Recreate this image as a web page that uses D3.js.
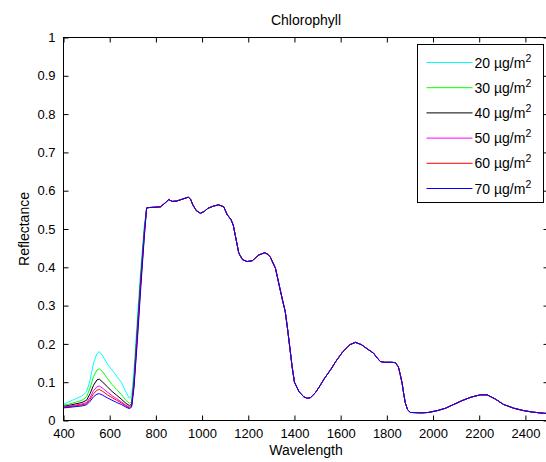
<!DOCTYPE html>
<html>
<head>
<meta charset="utf-8">
<script src="https://cdn.jsdelivr.net/npm/d3@7"></script>
<style>
  body { margin: 0; background: #fff; }
  svg { display: block; font-family: "Liberation Sans", Arial, sans-serif; }
  .axis text { font-size: 13px; fill: #000; }
  .axis line { stroke: #000; }
</style>
</head>
<body>
<svg id="chart" width="546" height="462"></svg>
<script>
// ---- data ----
var seriesNames = ["20", "30", "40", "50", "60", "70"];
var seriesColors = ["#00ffff", "#00ff00", "#000000", "#ff00ff", "#ff0000", "#0000ff"];

// visible part: curves differ by chlorophyll content
var visWavelengths = [400, 420, 450, 480, 500, 515, 530, 545, 555, 570, 590, 610, 630, 650, 670, 685, 695, 705, 720, 735, 750, 760];
var vis20 = [0.042, 0.048, 0.056, 0.064, 0.075, 0.105, 0.150, 0.175, 0.180, 0.168, 0.148, 0.132, 0.116, 0.100, 0.075, 0.058, 0.065, 0.130, 0.270, 0.400, 0.510, 0.555];
var vis30 = [0.040, 0.042, 0.047, 0.053, 0.062, 0.085, 0.115, 0.132, 0.135, 0.127, 0.110, 0.094, 0.081, 0.068, 0.053, 0.045, 0.050, 0.110, 0.250, 0.385, 0.500, 0.555];
var vis40 = [0.037, 0.039, 0.043, 0.047, 0.053, 0.070, 0.092, 0.106, 0.108, 0.100, 0.088, 0.076, 0.066, 0.056, 0.045, 0.039, 0.043, 0.100, 0.240, 0.375, 0.495, 0.555];
var vis50 = [0.036, 0.037, 0.040, 0.043, 0.047, 0.060, 0.078, 0.088, 0.090, 0.084, 0.074, 0.065, 0.057, 0.049, 0.040, 0.035, 0.040, 0.095, 0.230, 0.365, 0.490, 0.555];
var vis60 = [0.035, 0.036, 0.038, 0.041, 0.044, 0.055, 0.070, 0.079, 0.081, 0.076, 0.067, 0.060, 0.053, 0.046, 0.038, 0.033, 0.038, 0.090, 0.220, 0.360, 0.485, 0.555];
var vis70 = [0.033, 0.034, 0.036, 0.038, 0.041, 0.050, 0.062, 0.069, 0.070, 0.066, 0.059, 0.053, 0.047, 0.042, 0.035, 0.031, 0.035, 0.085, 0.210, 0.350, 0.480, 0.555];

// NIR / SWIR part: identical for all series
var nirWavelengths = [770, 800, 820, 840, 856, 870, 890, 910, 940, 950, 960, 975, 993, 1010, 1025, 1050, 1072, 1094, 1109, 1125, 1135, 1145, 1159, 1175, 1195, 1217, 1245, 1271, 1285, 1296, 1318, 1335, 1350, 1360, 1370, 1380, 1390, 1400, 1420, 1440, 1455, 1470, 1490, 1510, 1530, 1556, 1580, 1610, 1640, 1664, 1690, 1720, 1742, 1760, 1772, 1790, 1820, 1837, 1850, 1858, 1866, 1873, 1880, 1890, 1902, 1950, 1980, 2020, 2054, 2090, 2126, 2165, 2205, 2234, 2270, 2305, 2350, 2391, 2430, 2478, 2500];
var nirRefl = [0.556, 0.557, 0.558, 0.568, 0.577, 0.572, 0.573, 0.577, 0.583, 0.578, 0.563, 0.548, 0.541, 0.546, 0.554, 0.560, 0.563, 0.558, 0.537, 0.525, 0.510, 0.480, 0.437, 0.420, 0.415, 0.417, 0.432, 0.438, 0.434, 0.426, 0.397, 0.350, 0.310, 0.285, 0.240, 0.190, 0.140, 0.100, 0.075, 0.062, 0.058, 0.060, 0.072, 0.090, 0.110, 0.132, 0.155, 0.180, 0.198, 0.204, 0.198, 0.185, 0.176, 0.162, 0.154, 0.152, 0.152, 0.151, 0.140, 0.120, 0.098, 0.070, 0.046, 0.028, 0.021, 0.020, 0.021, 0.026, 0.032, 0.042, 0.052, 0.061, 0.067, 0.067, 0.056, 0.042, 0.032, 0.026, 0.022, 0.019, 0.018];

var xTicks = [400, 600, 800, 1000, 1200, 1400, 1600, 1800, 2000, 2200, 2400];
var yTicks = [0, 0.1, 0.2, 0.3, 0.4, 0.5, 0.6, 0.7, 0.8, 0.9, 1];

// ---- layout ----
var margin = { left: 63.5, top: 37.5 };
var width = 485, height = 383;

var svg = d3.select("#chart");
var g = svg.append("g").attr("transform", "translate(" + margin.left + "," + margin.top + ")");

var x = d3.scaleLinear().domain([400, 2500]).range([0, width]);
var y = d3.scaleLinear().domain([0, 1]).range([height, 0]);

// build series from the arrays
var visValues = [vis20, vis30, vis40, vis50, vis60, vis70];
var series = seriesNames.map(function (name, i) {
  var pts = visWavelengths.map(function (w, j) { return [w, visValues[i][j]]; });
  nirWavelengths.forEach(function (w, j) { pts.push([w, nirRefl[j]]); });
  return { name: name, color: seriesColors[i], points: pts };
});

// clip to the plot area
svg.append("defs").append("clipPath").attr("id", "clip")
  .append("rect").attr("width", width).attr("height", height);

var line = d3.line().x(function (d) { return x(d[0]); }).y(function (d) { return y(d[1]); });

g.append("g").attr("clip-path", "url(#clip)")
  .selectAll("path")
  .data(series)
  .enter()
  .append("path")
  .attr("d", function (d) { return line(d.points); })
  .attr("fill", "none")
  .attr("stroke", function (d) { return d.color; })
  .attr("stroke-width", 1);

// axes, ticks inward on all four sides
var fmt = d3.format("~g");
g.append("g").attr("class", "axis").attr("transform", "translate(0," + height + ")")
  .call(d3.axisBottom(x).tickValues(xTicks).tickSize(-5).tickPadding(8).tickFormat(fmt))
  .call(function (a) { a.select(".domain").remove(); });
g.append("g").attr("class", "axis")
  .call(d3.axisTop(x).tickValues(xTicks).tickSize(-5).tickFormat(""))
  .call(function (a) { a.select(".domain").remove(); });
g.append("g").attr("class", "axis")
  .call(d3.axisLeft(y).tickValues(yTicks).tickSize(-5).tickPadding(8).tickFormat(fmt))
  .call(function (a) { a.select(".domain").remove(); });
g.append("g").attr("class", "axis").attr("transform", "translate(" + width + ",0)")
  .call(d3.axisRight(y).tickValues(yTicks).tickSize(-5).tickFormat(""))
  .call(function (a) { a.select(".domain").remove(); });

g.append("rect")
  .attr("width", width).attr("height", height)
  .attr("fill", "none").attr("stroke", "#000").attr("stroke-width", 1);

// titles
svg.append("text").attr("x", margin.left + width / 2).attr("y", 25)
  .attr("text-anchor", "middle").style("font-size", "14px").text("Chlorophyll");
svg.append("text").attr("x", margin.left + width / 2).attr("y", 455)
  .attr("text-anchor", "middle").style("font-size", "14px").text("Wavelength");
svg.append("text").attr("transform", "translate(29," + (margin.top + height / 2) + ") rotate(-90)")
  .attr("text-anchor", "middle").style("font-size", "14px").text("Reflectance");

// legend
var legend = svg.append("g").attr("transform", "translate(417.5,44.5)");
legend.append("rect").attr("width", 126).attr("height", 158)
  .attr("fill", "#fff").attr("stroke", "#000").attr("stroke-width", 1);

var item = legend.selectAll(".item").data(series).enter().append("g")
  .attr("class", "item")
  .attr("transform", function (d, i) { return "translate(0," + (18 + i * 25.2) + ")"; });
item.append("line").attr("x1", 9).attr("x2", 55).attr("y1", 0).attr("y2", 0)
  .attr("stroke", function (d) { return d.color; }).attr("stroke-width", 1);
var lt = item.append("text").attr("x", 57).attr("y", 5).style("font-size", "14px");
lt.append("tspan").text(function (d) { return d.name + " \u00b5g/m"; });
lt.append("tspan").attr("dy", -6).style("font-size", "10.5px").text("2");
</script>
</body>
</html>
